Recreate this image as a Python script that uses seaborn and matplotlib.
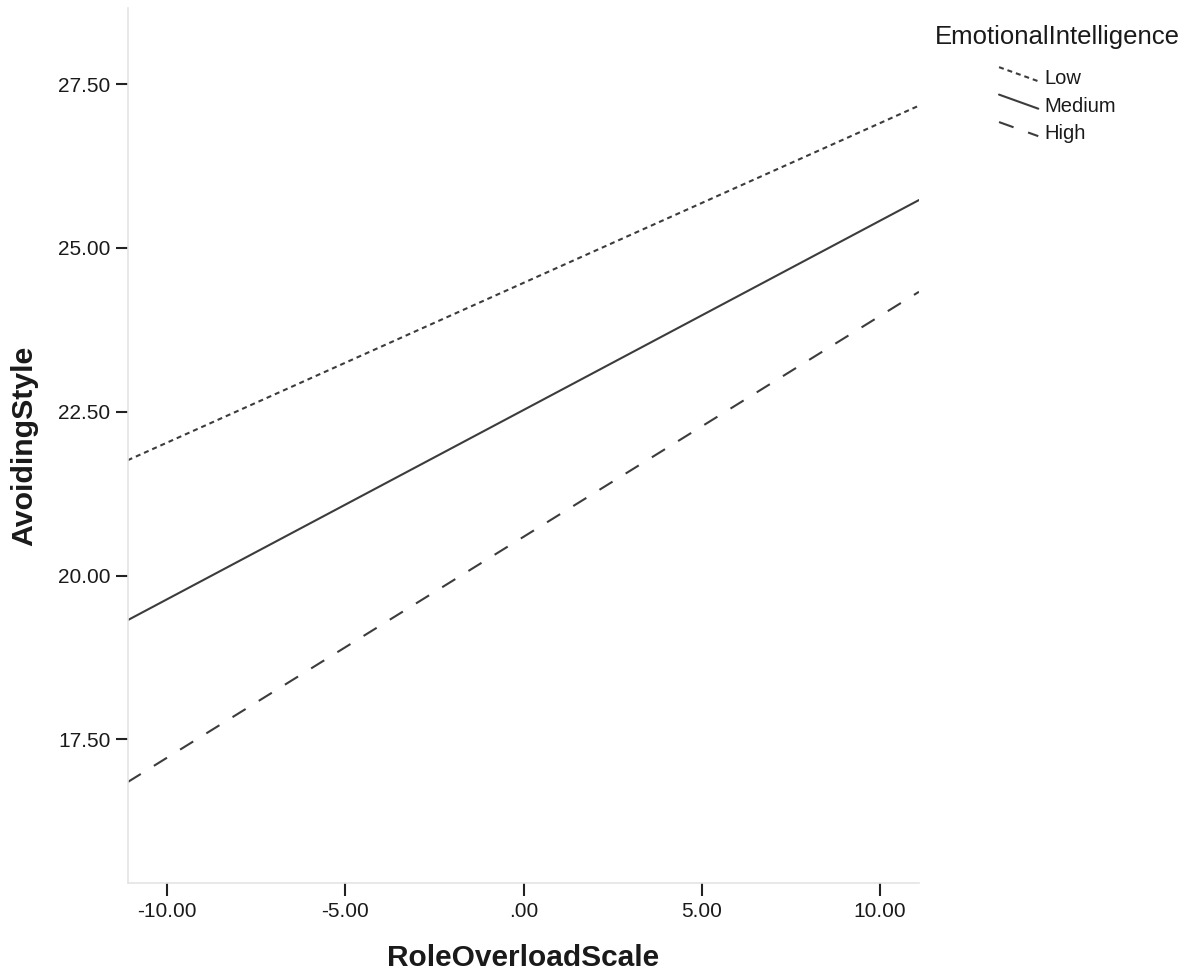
import matplotlib
matplotlib.use("Agg")
import matplotlib.pyplot as plt
from matplotlib.legend_handler import HandlerLine2D
from matplotlib.lines import Line2D
import seaborn as sns
import pandas as pd

# Simple-slopes data: predicted AvoidingStyle at the ends of the RoleOverloadScale range
role_overload = [-11.11, 11.09]
low = [21.76, 27.17]
medium = [19.32, 25.73]
high = [16.85, 24.33]
levels = ["Low", "Medium", "High"]

x_ticks = [-10, -5, 0, 5, 10]
x_tick_labels = ["-10.00", "-5.00", ".00", "5.00", "10.00"]
y_ticks = [17.5, 20.0, 22.5, 25.0, 27.5]
y_tick_labels = ["17.50", "20.00", "22.50", "25.00", "27.50"]

df = pd.DataFrame({
    "RoleOverloadScale": role_overload * 3,
    "AvoidingStyle": low + medium + high,
    "EmotionalIntelligence": [lv for lv in levels for _ in role_overload],
})

sns.set_theme(style="white")
plt.rcParams["font.family"] = ["Liberation Sans", "DejaVu Sans"]
text_color = "#1a1a1a"
line_color = "#3c3c3c"

fig = plt.figure(figsize=(11.91, 9.74), dpi=100)
ax = fig.add_axes([0.1072, 0.0934, 0.6644, 0.8984])

dash_map = {"Low": (2.4, 1.9), "Medium": "", "High": (7.4, 7.4)}
sns.lineplot(
    data=df, x="RoleOverloadScale", y="AvoidingStyle",
    style="EmotionalIntelligence", style_order=levels, dashes=dash_map,
    color=line_color, linewidth=1.5, legend=False, ax=ax,
)

ax.set_xlim(role_overload[0], role_overload[1])
ax.set_ylim(15.31, 28.66)
ax.set_xticks(x_ticks)
ax.set_xticklabels(x_tick_labels)
ax.set_yticks(y_ticks)
ax.set_yticklabels(y_tick_labels)

for side in ("top", "right"):
    ax.spines[side].set_visible(False)
for side in ("left", "bottom"):
    ax.spines[side].set_color("#e4e4e4")
    ax.spines[side].set_linewidth(1.2)

ax.tick_params(axis="both", which="major", direction="out", length=9,
               width=1.5, color="#222222", labelsize=15, labelcolor=text_color,
               bottom=True, left=True, top=False, right=False)
ax.tick_params(axis="y", pad=3.5)
ax.tick_params(axis="x", pad=4.5)

ax.set_xlabel("RoleOverloadScale", fontsize=21.5, fontweight="bold",
              color=text_color, labelpad=17)
ax.set_ylabel("AvoidingStyle", fontsize=21.8, fontweight="bold",
              color=text_color, labelpad=14)


class DiagonalLineHandler(HandlerLine2D):
    """Legend key drawn as a line sloping down from left to right."""

    def create_artists(self, legend, orig_handle, xdescent, ydescent,
                       width, height, fontsize, trans):
        x0 = -xdescent
        x1 = -xdescent + width
        y0 = -ydescent + height * 1.2
        y1 = -ydescent + height * 0.2
        line = Line2D([x0, x1], [y0, y1])
        self.update_prop(line, orig_handle, legend)
        line.set_transform(trans)
        return [line]


handles = ax.get_lines()[:len(levels)]
leg = fig.legend(
    handles, levels, title="EmotionalIntelligence",
    loc="upper left", bbox_to_anchor=(935 / 1191, 1 - 25 / 974),
    frameon=False, fontsize=14.5, title_fontsize=18.5,
    handlelength=1.95, handletextpad=0.3, labelspacing=0.42,
    borderpad=0, borderaxespad=0,
    handler_map={Line2D: DiagonalLineHandler()},
)
# extra room between the legend title and its entries
leg._legend_box.sep = 10.4 * fig.dpi / 72
for t in leg.get_texts():
    t.set_color(text_color)
leg.get_title().set_color(text_color)

fig.savefig("out.png", dpi=100, facecolor="white")
